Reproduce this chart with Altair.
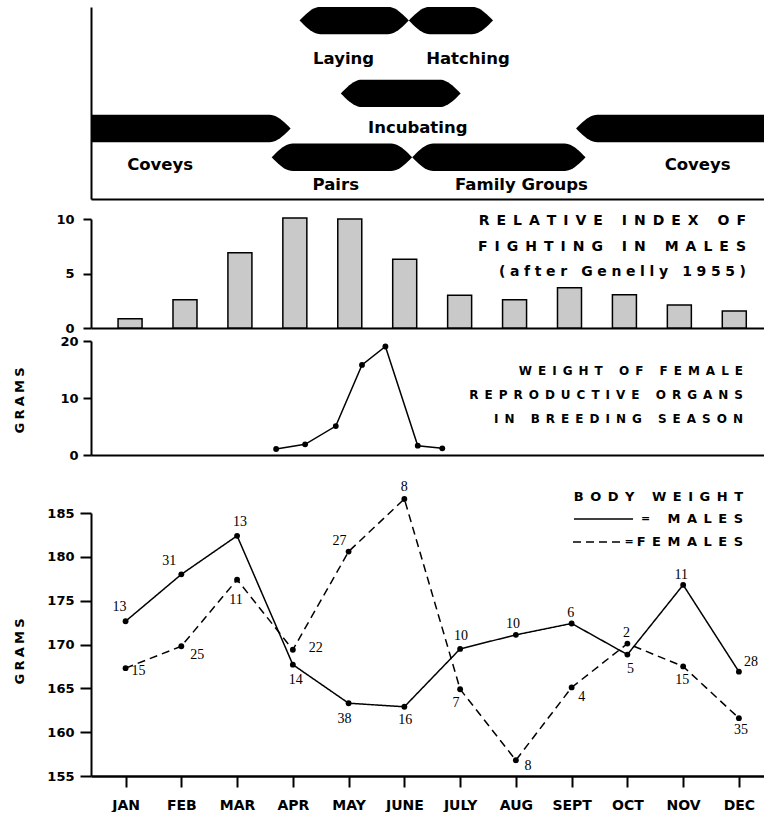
import json
import math
import altair as alt
import pandas as pd

# ---------------- data ----------------
months = ["JAN", "FEB", "MAR", "APR", "MAY", "JUNE", "JULY", "AUG", "SEPT", "OCT", "NOV", "DEC"]

fighting_index = [0.85, 2.6, 6.9, 10.1, 10.0, 6.3, 3.0, 2.6, 3.7, 3.05, 2.1, 1.55]

organ_month = [2.70, 3.22, 3.77, 4.24, 4.66, 5.24, 5.68]
organ_grams = [1.05, 1.87, 5.08, 15.8, 19.04, 1.63, 1.17]

male_weight = [172.65, 178.0, 182.4, 167.7, 163.3, 162.9, 169.5, 171.1, 172.4, 168.85, 176.8, 166.9]
male_n = [13, 31, 13, 14, 38, 16, 10, 10, 6, 5, 11, 28]
female_weight = [167.3, 169.8, 177.4, 169.4, 180.6, 186.6, 164.9, 156.8, 165.1, 170.1, 167.5, 161.6]
female_n = [15, 25, 11, 22, 27, 8, 7, 8, 4, 2, 15, 35]

phase_names = ["Coveys", "Coveys", "Pairs", "Family Groups", "Incubating", "Laying", "Hatching"]
phase_start = [-1.2, 8.08, 2.62, 5.14, 3.86, 3.12, 5.08]
phase_end = [2.96, 12.6, 5.14, 8.25, 6.01, 5.08, 6.59]
phase_level = [2.57, 2.57, 1.52, 1.52, 3.85, 6.51, 6.51]

# ---------------- layout / style ----------------
W = 673
X_DOMAIN = [-0.62, 11.45]
H1, H2, H3, H4 = 192, 109, 114, 263
GAPS = [20, 13, 58]
TAPER, HALF = 0.38, 0.5
phase_label_x = [0.62, 10.26, 3.77, 7.1, 5.24, 3.91, 6.14]
phase_label_level = [1.24, 1.24, 0.51, 0.51, 2.58, 5.1, 5.1]
male_dx = [-6, -12, 3, 3, -4, 1, 1, -3, -1, 3, -2, 12]
male_dy = [-14, -13, -14, 15, 16, 13, -13, -11, -10, 14, -10, -10]
female_dx = [13, 16, -1, 23, -9, 0, -4, 12, 10, -1, -1, 2]
female_dy = [3, 9, 20, -2, -11, -12, 14, 6, 10, -11, 14, 12]

SANS = "DejaVu Sans"
SERIF = "Liberation Serif"
px_per_month = W / (X_DOMAIN[1] - X_DOMAIN[0])
px_per_gram = H4 / 30.0


def spaced(s, sep="\u2002"):
    return (sep + " " + sep).join(sep.join(w) for w in s.split(" "))


xs = alt.Scale(domain=X_DOMAIN, nice=False, zero=False)
x_line_only = alt.Axis(ticks=False, labels=False, title=None, grid=False, domainWidth=2)
one = pd.DataFrame({"t": ["x"]})


def spacer(h):
    return alt.Chart(one).mark_point(opacity=0).encode(
        x=alt.value(0), y=alt.value(0)
    ).properties(width=W, height=h)


# ---------------- panel 1 : phases ----------------
shape_rows = []
N = 10
for i, (s, e, lev) in enumerate(zip(phase_start, phase_end, phase_level)):
    pts = []
    for k in range(N + 1):
        t = k / N
        pts.append((s + TAPER * t, HALF * math.sin(math.pi / 2 * t)))
    for k in range(N, -1, -1):
        t = k / N
        pts.append((e - TAPER * t, HALF * math.sin(math.pi / 2 * t)))
    for x, h in pts:
        shape_rows.append({"id": i, "x": x, "lo": lev - h, "hi": lev + h})
shape_df = pd.DataFrame(shape_rows)
plab_df = pd.DataFrame({"name": phase_names, "x": phase_label_x, "y": phase_label_level})

ys1 = alt.Scale(domain=[0, 7], nice=False, zero=False)
p1_area = alt.Chart(shape_df).mark_area(color="black", clip=True).encode(
    x=alt.X("x:Q", scale=xs, axis=x_line_only),
    y=alt.Y("lo:Q", scale=ys1, axis=alt.Axis(ticks=False, labels=False, title=None, grid=False, domainWidth=2)),
    y2="hi:Q",
    detail="id:N",
)
p1_text = alt.Chart(plab_df).mark_text(font=SANS, fontSize=16.5, fontWeight="bold", color="black").encode(
    x=alt.X("x:Q", scale=xs), y=alt.Y("y:Q", scale=ys1), text="name:N"
)
p1 = alt.layer(p1_area, p1_text).properties(width=W, height=H1)

# ---------------- panel 2 : fighting index ----------------
bar_df = pd.DataFrame({"m": list(range(12)), "v": fighting_index})
ys2 = alt.Scale(domain=[0, 10], nice=False)
p2_bars = alt.Chart(bar_df).mark_bar(
    size=24, fill="#c9c9c9", stroke="black", strokeWidth=1.5, orient="vertical"
).encode(
    x=alt.X("m:Q", scale=xs, axis=x_line_only),
    y=alt.Y("v:Q", scale=ys2, axis=alt.Axis(values=[0, 5, 10], tickSize=8, labelPadding=9, title=None, grid=False)),
)
p2_layers = [p2_bars]
for txt, yy, sep in zip(["RELATIVE INDEX OF", "FIGHTING IN MALES", "(after Genelly 1955)"],
                        [2, 28, 53], ["\u2002", "\u2002", "\u2004"]):
    p2_layers.append(
        alt.Chart(pd.DataFrame({"t": [spaced(txt, sep)]})).mark_text(
            font=SANS, fontSize=14, fontWeight="bold", align="right", baseline="middle", color="black"
        ).encode(text="t:N", x=alt.value(655), y=alt.value(yy))
    )
p2 = alt.layer(*p2_layers).properties(width=W, height=H2)

# ---------------- panel 3 : female organs ----------------
org_df = pd.DataFrame({"m": organ_month, "g": organ_grams})
ys3 = alt.Scale(domain=[0, 20], nice=False)
y3_axis = alt.Axis(
    values=[0, 5, 10, 15, 20], labelExpr="datum.value % 10 == 0 ? datum.label : ''",
    tickSize=8, labelPadding=5, grid=False,
    title=spaced("GRAMS", "\u2005"), titleAngle=270, titleX=-68, titleY=59,
    titleAlign="center", titleBaseline="alphabetic",
)
p3_line = alt.Chart(org_df).mark_line(color="black", strokeWidth=1.5).encode(
    x=alt.X("m:Q", scale=xs, axis=x_line_only), y=alt.Y("g:Q", scale=ys3, axis=y3_axis)
)
p3_pts = alt.Chart(org_df).mark_point(filled=True, size=34, color="black", opacity=1).encode(
    x=alt.X("m:Q", scale=xs), y=alt.Y("g:Q", scale=ys3)
)
p3_layers = [p3_line, p3_pts]
for txt, yy in zip(["WEIGHT OF FEMALE", "REPRODUCTIVE ORGANS", "IN BREEDING SEASON"], [30, 54, 77.5]):
    p3_layers.append(
        alt.Chart(pd.DataFrame({"t": [spaced(txt)]})).mark_text(
            font=SANS, fontSize=12, fontWeight="bold", align="right", baseline="middle", color="black"
        ).encode(text="t:N", x=alt.value(652), y=alt.value(yy))
    )
p3 = alt.layer(*p3_layers).properties(width=W, height=H3)

# ---------------- panel 4 : body weight ----------------
rows = []
for i in range(12):
    rows.append({"m": i, "w": male_weight[i], "sex": "Males", "n": male_n[i],
                 "lx": i + male_dx[i] / px_per_month, "ly": male_weight[i] - male_dy[i] / px_per_gram})
for i in range(12):
    rows.append({"m": i, "w": female_weight[i], "sex": "Females", "n": female_n[i],
                 "lx": i + female_dx[i] / px_per_month, "ly": female_weight[i] - female_dy[i] / px_per_gram})
wt_df = pd.DataFrame(rows)
ys4 = alt.Scale(domain=[155, 185], nice=False, zero=False)
x4_axis = alt.Axis(
    values=list(range(12)), labelExpr=json.dumps(months) + "[datum.value]",
    tickSize=11, tickWidth=2, labelPadding=11, labelFontSize=14, title=None,
    labelFlush=False, labelOverlap=False, grid=False, domainWidth=2.5,
)
y4_axis = alt.Axis(
    values=list(range(155, 186, 5)), tickSize=11, tickWidth=2, labelPadding=6, grid=False,
    title=spaced("GRAMS", "\u2005"), titleAngle=270, titleX=-68, titleY=138,
    titleAlign="center", titleBaseline="alphabetic",
)
p4_lines = alt.Chart(wt_df).mark_line(color="black", strokeWidth=1.5).encode(
    x=alt.X("m:Q", scale=xs, axis=x4_axis),
    y=alt.Y("w:Q", scale=ys4, axis=y4_axis),
    strokeDash=alt.StrokeDash("sex:N", scale=alt.Scale(domain=["Males", "Females"], range=[[1, 0], [8, 5]]), legend=None),
)
p4_pts = alt.Chart(wt_df).mark_point(filled=True, size=34, color="black", opacity=1).encode(
    x=alt.X("m:Q", scale=xs), y=alt.Y("w:Q", scale=ys4)
)
p4_lab = alt.Chart(wt_df).mark_text(font=SERIF, fontSize=14, color="black").encode(
    x=alt.X("lx:Q", scale=xs), y=alt.Y("ly:Q", scale=ys4), text="n:Q"
)
leg = [
    alt.Chart(pd.DataFrame({"t": [spaced("BODY WEIGHT")]})).mark_text(
        font=SANS, fontSize=13, fontWeight="bold", align="right", baseline="middle", color="black"
    ).encode(text="t:N", x=alt.value(652), y=alt.value(-16)),
    alt.Chart(pd.DataFrame({"t": [spaced("MALES")]})).mark_text(
        font=SANS, fontSize=13, fontWeight="bold", align="right", baseline="middle", color="black"
    ).encode(text="t:N", x=alt.value(652), y=alt.value(6)),
    alt.Chart(pd.DataFrame({"t": [spaced("FEMALES")]})).mark_text(
        font=SANS, fontSize=13, fontWeight="bold", align="right", baseline="middle", color="black"
    ).encode(text="t:N", x=alt.value(652), y=alt.value(29)),
    alt.Chart(pd.DataFrame({"t": ["="]})).mark_text(
        font=SANS, fontSize=11, fontWeight="bold", baseline="middle", color="black"
    ).encode(text="t:N", x=alt.value(554.5), y=alt.value(6)),
    alt.Chart(pd.DataFrame({"t": ["="]})).mark_text(
        font=SANS, fontSize=11, fontWeight="bold", baseline="middle", color="black"
    ).encode(text="t:N", x=alt.value(538), y=alt.value(29)),
    alt.Chart(one).mark_rule(color="black", strokeWidth=1.5).encode(
        x=alt.value(483), x2=alt.value(542), y=alt.value(6)),
    alt.Chart(one).mark_rule(color="black", strokeWidth=1.5, strokeDash=[8, 5]).encode(
        x=alt.value(482), x2=alt.value(532), y=alt.value(29)),
]
p4 = alt.layer(p4_lines, p4_pts, p4_lab, *leg).properties(width=W, height=H4)

# ---------------- composition ----------------
chart = (
    alt.vconcat(p1, spacer(GAPS[0]), p2, spacer(GAPS[1]), p3, spacer(GAPS[2]), p4,
                spacing=0, bounds="flush")
    .resolve_scale(x="independent", y="independent", strokeDash="independent")
    .properties(padding={"left": 13, "top": 7, "right": 0, "bottom": 0}, background="white")
    .configure_view(stroke=None)
    .configure_axis(
        domainColor="black", tickColor="black", labelColor="black", titleColor="black",
        domainWidth=2, tickWidth=2, labelFont=SANS, labelFontWeight="bold", labelFontSize=13,
        titleFont=SANS, titleFontWeight="bold", titleFontSize=13, grid=False,
    )
)
chart.save("out.html", embed_options={"renderer": "svg", "actions": False})
